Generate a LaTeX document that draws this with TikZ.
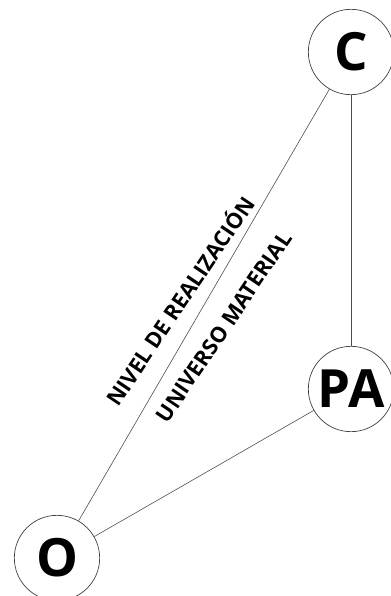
\documentclass[tikz,border=0pt]{standalone}
\usepackage{fontspec}
\setmainfont{Open Sans}
\usepackage{tikz}
\begin{document}
\begin{tikzpicture}[
    x=0.03cm, y=-0.03cm,
    vertex/.style={circle, draw=black!75, line width=0.6pt, minimum size=2.56cm, inner sep=0pt, font=\fontsize{45}{45}\selectfont\bfseries},
    link/.style={draw=black!70, line width=0.5pt},
    lbl/.style={font=\fontsize{18.5}{18.5}\selectfont\bfseries, rotate=56, inner sep=0pt}
]
    \useasboundingbox (0,0) rectangle (390,596);

    % Vertices
    \node[vertex] (c) at (351,52) {C};
    \node[vertex] (pa) at (351,389) {PA};
    \node[vertex] (o) at (57,558) {O};

    % Links
    \draw[link] (o) -- (c);
    \draw[link] (c) -- (pa);
    \draw[link] (o) -- (pa);

    % Labels along O--C
    \node[lbl] (nivel) at (179,300) {NIVEL DE REALIZACIÓN};
    \node[lbl] (univ) at (224,327) {UNIVERSO MATERIAL};
\end{tikzpicture}
\end{document}
